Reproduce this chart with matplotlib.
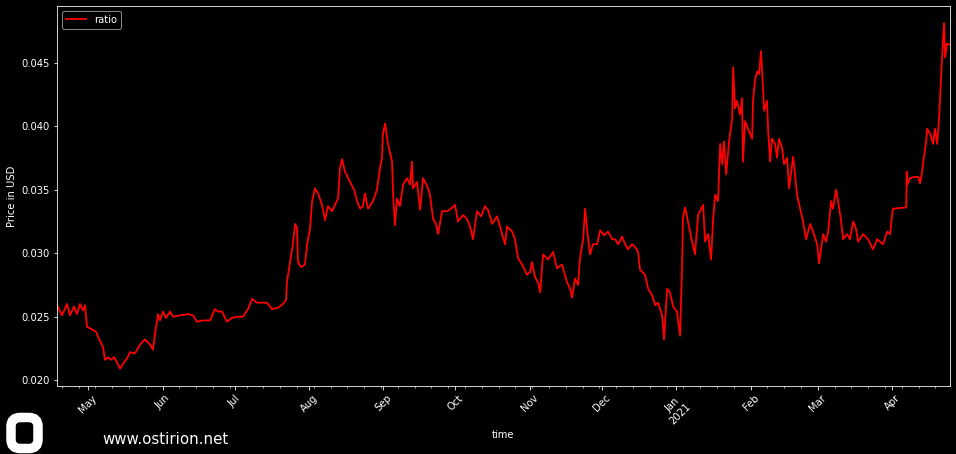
import matplotlib
matplotlib.use("Agg")
import matplotlib.pyplot as plt
import matplotlib.dates as mdates
from matplotlib.patches import FancyBboxPatch
import pandas as pd

# elapsed days since 2020-04-18 and the ratio read at each point
days = [0.0, 2.1, 4.2, 5.4, 7.1, 8.3, 9.6, 10.8, 11.7, 12.5, 14.6, 16.3, 17.9, 19.2, 20.0,
        21.3, 22.5, 23.8, 25.0, 26.3, 27.9, 29.2, 30.4, 32.5, 34.6, 36.7, 38.8, 40.0, 40.8,
        42.1, 42.9, 44.2, 45.4, 47.1, 48.3, 51.3, 54.6, 56.7, 58.3, 60.8, 63.8, 65.8, 67.1,
        68.8, 70.8, 72.9, 75.4, 77.5, 79.6, 81.3, 83.3, 85.4, 87.5, 89.6, 92.1, 94.2, 95.4,
        95.8, 97.1, 98.3, 99.2, 100.0, 100.4, 101.7, 103.3, 104.2, 105.4, 106.3, 107.5, 108.8,
        110.4, 111.7, 112.9, 114.6, 115.8, 117.1, 117.9, 118.8, 120.0, 122.1, 123.8, 125.0,
        126.3, 127.5, 128.3, 129.6, 131.7, 133.3, 134.6, 135.4, 135.8, 136.7, 137.9, 139.6,
        140.0, 140.8, 141.7, 142.9, 144.2, 145.8, 147.1, 147.9, 148.3, 150.0, 151.3, 152.5,
        154.2, 155.4, 156.7, 157.9, 158.8, 160.4, 162.5, 164.2, 165.8, 167.1, 169.2, 170.8,
        172.1, 173.3, 175.0, 176.7, 178.3, 179.6, 181.3, 183.3, 184.6, 185.4, 186.7, 187.5,
        189.6, 190.8, 192.1, 193.8, 195.8, 197.1, 197.9, 199.2, 200.4, 201.3, 202.5, 204.6,
        206.7, 208.3, 210.4, 212.5, 213.8, 214.6, 215.8, 217.1, 217.9, 219.2, 220.0, 221.3,
        222.1, 223.3, 225.0, 226.3, 227.9, 229.6, 231.3, 232.5, 233.8, 235.4, 236.7, 237.9,
        239.6, 240.8, 242.1, 242.9, 245.0, 246.3, 247.9, 249.2, 250.4, 252.1, 252.9, 254.2,
        255.4, 256.7, 258.3, 259.6, 260.4, 260.8, 261.7, 262.9, 264.6, 265.8, 267.1, 269.2,
        270.0, 271.3, 272.5, 273.3, 274.2, 275.4, 276.3, 277.1, 277.9, 278.8, 280.0, 281.3,
        281.7, 282.5, 283.3, 284.6, 285.4, 285.8, 286.7, 287.9, 289.6, 290.0, 290.8, 291.7,
        292.5, 293.3, 294.2, 294.6, 295.8, 296.3, 297.1, 297.9, 299.2, 300.0, 300.8, 302.1,
        302.9, 304.2, 305.0, 306.7, 307.5, 308.3, 309.6, 310.8, 312.1, 313.8, 315.0, 316.7,
        317.5, 319.2, 320.4, 321.3, 322.5, 323.3, 324.6, 325.4, 326.7, 327.5, 329.2, 330.4,
        331.7, 332.9, 333.8, 335.8, 337.9, 340.0, 341.7, 342.9, 344.2, 345.8, 347.1, 347.9,
        348.3, 353.8, 354.0, 354.2, 355.4, 357.1, 358.8, 359.6, 360.4, 360.8, 362.1, 362.5,
        363.8, 365.0, 365.8, 366.7, 367.5, 368.3, 369.2, 369.6, 370.0, 370.8, 372.0]

ratio = [0.0259, 0.0251, 0.0260, 0.0251, 0.0258, 0.0252, 0.0260, 0.0255, 0.0259, 0.0242,
         0.0240, 0.0238, 0.0231, 0.0226, 0.0216, 0.0218, 0.0216, 0.0218, 0.0214, 0.0209,
         0.0214, 0.0217, 0.0222, 0.0221, 0.0228, 0.0232, 0.0228, 0.0224, 0.0236, 0.0252,
         0.0247, 0.0254, 0.0249, 0.0254, 0.0250, 0.0251, 0.0252, 0.0251, 0.0246, 0.0247,
         0.0247, 0.0256, 0.0254, 0.0254, 0.0246, 0.0249, 0.0250, 0.0250, 0.0256, 0.0264,
         0.0261, 0.0261, 0.0261, 0.0256, 0.0257, 0.0260, 0.0263, 0.0277, 0.0293, 0.0307,
         0.0323, 0.0320, 0.0293, 0.0289, 0.0291, 0.0307, 0.0319, 0.0341, 0.0351, 0.0347,
         0.0338, 0.0326, 0.0337, 0.0333, 0.0338, 0.0343, 0.0367, 0.0374, 0.0364, 0.0356,
         0.0350, 0.0341, 0.0335, 0.0337, 0.0347, 0.0335, 0.0341, 0.0350, 0.0367, 0.0375,
         0.0394, 0.0402, 0.0386, 0.0372, 0.0348, 0.0322, 0.0343, 0.0337, 0.0354, 0.0359,
         0.0354, 0.0372, 0.0351, 0.0356, 0.0334, 0.0359, 0.0353, 0.0346, 0.0327, 0.0323,
         0.0315, 0.0333, 0.0333, 0.0335, 0.0338, 0.0325, 0.0330, 0.0327, 0.0321, 0.0311,
         0.0333, 0.0329, 0.0337, 0.0334, 0.0323, 0.0329, 0.0321, 0.0315, 0.0307, 0.0321,
         0.0317, 0.0311, 0.0296, 0.0291, 0.0283, 0.0285, 0.0293, 0.0281, 0.0277, 0.0269,
         0.0299, 0.0295, 0.0301, 0.0288, 0.0291, 0.0277, 0.0272, 0.0265, 0.0280, 0.0275,
         0.0296, 0.0311, 0.0335, 0.0311, 0.0299, 0.0307, 0.0307, 0.0318, 0.0314, 0.0317,
         0.0311, 0.0311, 0.0307, 0.0313, 0.0307, 0.0303, 0.0307, 0.0305, 0.0301, 0.0287,
         0.0283, 0.0272, 0.0267, 0.0259, 0.0261, 0.0251, 0.0232, 0.0272, 0.0269, 0.0258,
         0.0254, 0.0235, 0.0288, 0.0328, 0.0336, 0.0325, 0.0309, 0.0299, 0.0330, 0.0338,
         0.0309, 0.0315, 0.0295, 0.0325, 0.0346, 0.0341, 0.0386, 0.0370, 0.0388, 0.0362,
         0.0388, 0.0406, 0.0446, 0.0414, 0.0420, 0.0409, 0.0422, 0.0372, 0.0404, 0.0398,
         0.0390, 0.0420, 0.0436, 0.0443, 0.0441, 0.0459, 0.0428, 0.0412, 0.0420, 0.0396,
         0.0372, 0.0390, 0.0386, 0.0375, 0.0390, 0.0383, 0.0370, 0.0375, 0.0351, 0.0376,
         0.0362, 0.0346, 0.0335, 0.0325, 0.0311, 0.0323, 0.0317, 0.0307, 0.0292, 0.0315,
         0.0309, 0.0317, 0.0341, 0.0335, 0.0350, 0.0341, 0.0325, 0.0311, 0.0315, 0.0311,
         0.0325, 0.0319, 0.0309, 0.0315, 0.0311, 0.0303, 0.0311, 0.0309, 0.0307, 0.0317,
         0.0315, 0.0330, 0.0335, 0.0336, 0.0364, 0.0354, 0.0359, 0.0360, 0.0360, 0.0355,
         0.0364, 0.0370, 0.0388, 0.0398, 0.0394, 0.0386, 0.0398, 0.0386, 0.0406, 0.0438,
         0.0470, 0.0481, 0.0454, 0.0465, 0.0464]

start = pd.Timestamp("2020-04-18")
times = start + pd.to_timedelta(days, unit="D")

plt.style.use("dark_background")
fig = plt.figure(figsize=(956 / 72, 454 / 72), dpi=72)
ax = fig.add_axes([0.0596, 0.1498, 0.934, 0.837])

ax.plot(times, ratio, color="red", linewidth=1.8, label="ratio")
ax.set_xlim(times[0], times[-1])
ax.margins(y=0.05)

ax.xaxis.set_major_locator(mdates.MonthLocator())
ax.xaxis.set_minor_locator(mdates.WeekdayLocator(byweekday=mdates.MO))


def month_label(x, pos):
    d = mdates.num2date(x)
    if d.month == 1:
        return d.strftime("%b") + "\n" + d.strftime("%Y")
    return d.strftime("%b")


ax.xaxis.set_major_formatter(plt.FuncFormatter(month_label))
plt.setp(ax.get_xticklabels(), rotation=45, ha="center")
ax.set_yticks([0.020, 0.025, 0.030, 0.035, 0.040, 0.045])
ax.yaxis.set_major_formatter(plt.FormatStrFormatter("%.3f"))

ax.set_xlabel("time")
ax.set_ylabel("Price in USD")
ax.legend(loc="upper left", edgecolor="#aaaaaa")

# logo: rounded white ring
lax = fig.add_axes([6 / 956, 1 / 454, 37 / 956, 40 / 454])
lax.set_xlim(0, 37)
lax.set_ylim(0, 40)
lax.axis("off")
lax.add_patch(FancyBboxPatch((5, 4.5), 27, 31, boxstyle="round,pad=0,rounding_size=9",
                             facecolor="none", edgecolor="white", linewidth=9.5,
                             clip_on=False))
fig.text(102 / 956, 1 - 440 / 454, "www.ostirion.net", color="white", fontsize=15,
         va="center", ha="left")

fig.savefig("out.png", dpi=72, facecolor="black")
